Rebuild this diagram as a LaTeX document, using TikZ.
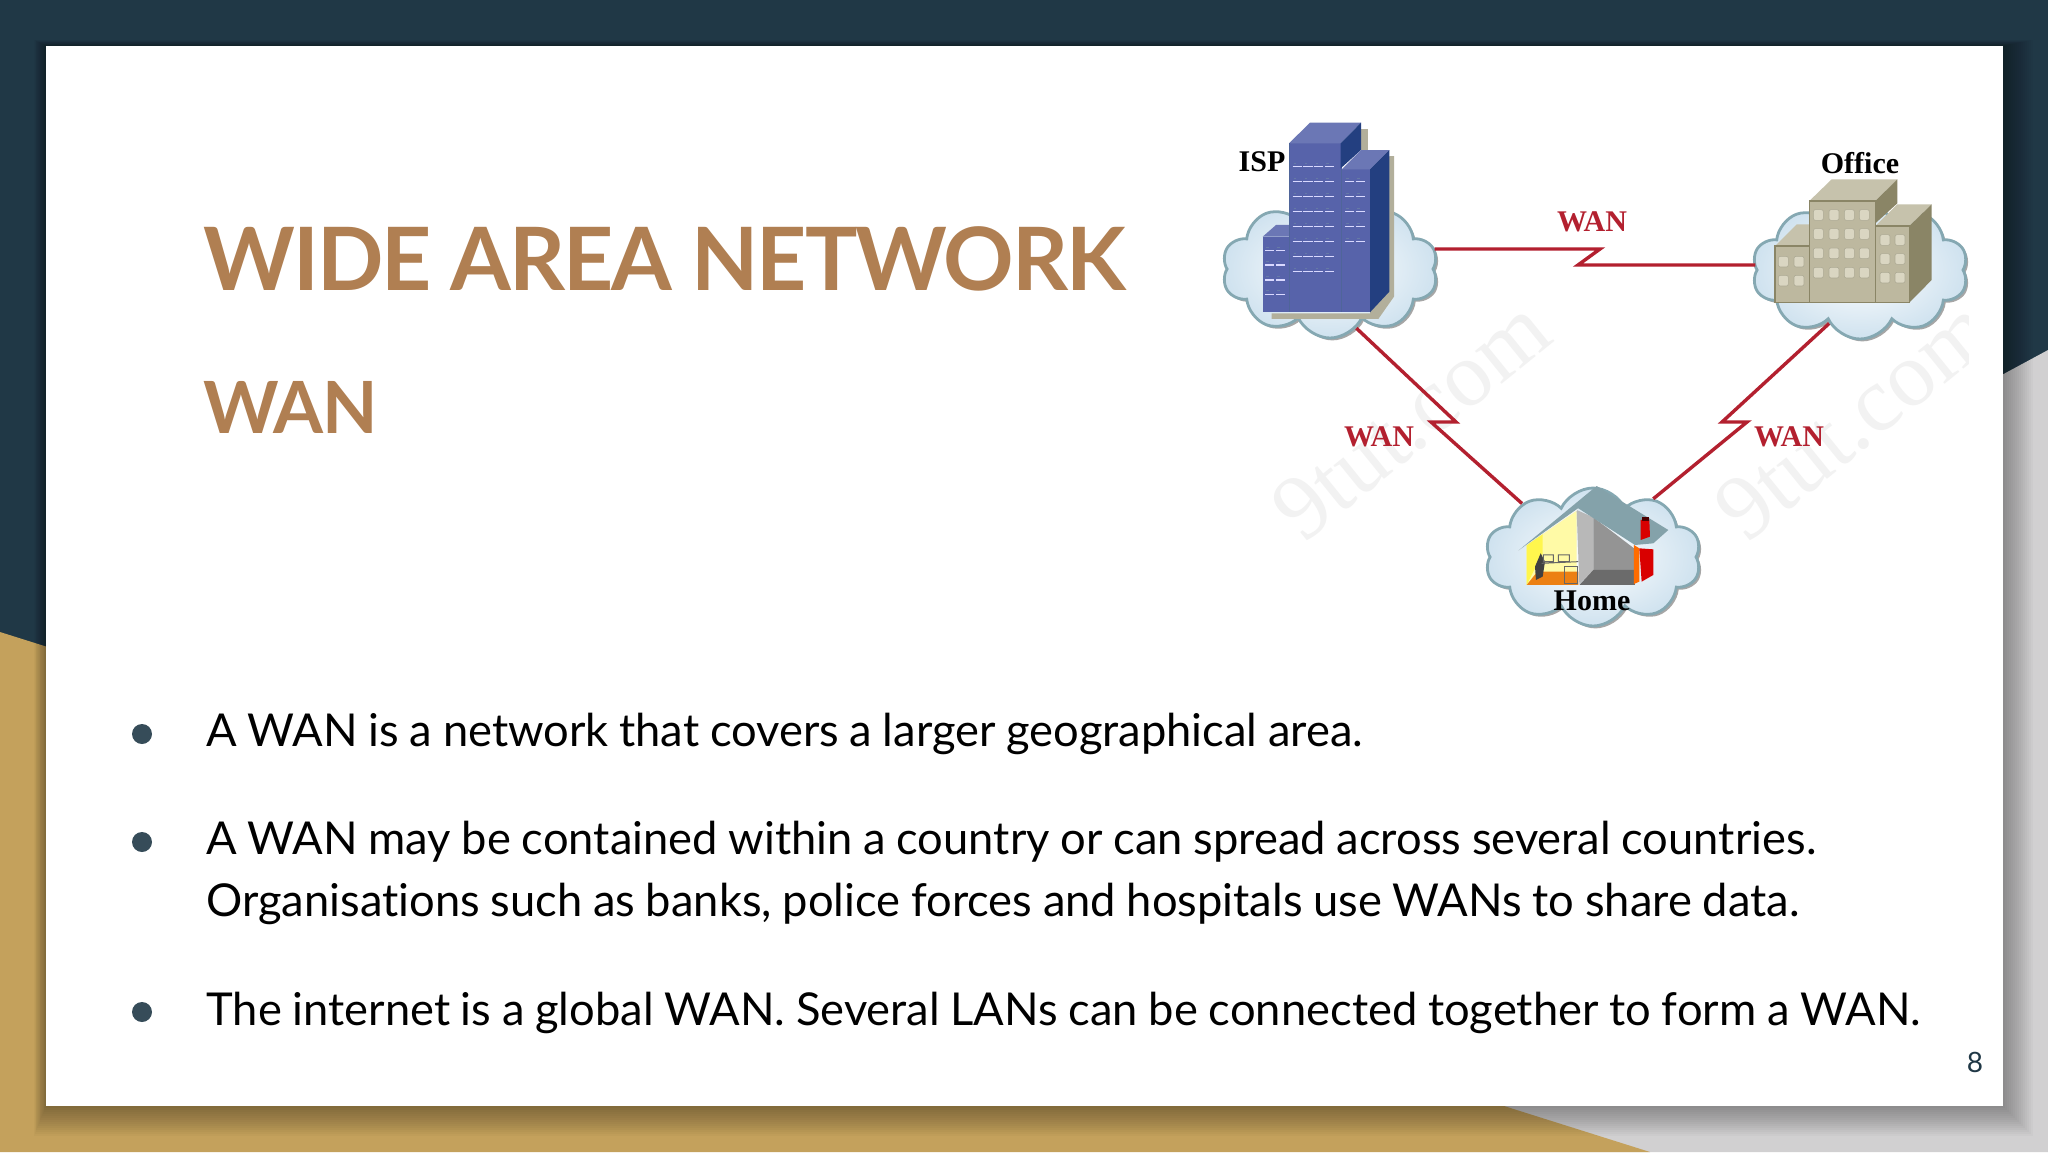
\documentclass[tikz,border=0pt]{standalone}
\usepackage{fontspec}
\setmainfont{Lato}[Ligatures=NoCommon]
\newfontfamily\bodyfont{Lato}[Ligatures=NoCommon,WordSpace=0.92]
\newfontfamily\lblfont{Liberation Serif}
\usetikzlibrary{shapes.symbols,shadows}
\definecolor{navy}{HTML}{203846}
\definecolor{sand}{HTML}{C4A15C}
\definecolor{ash}{HTML}{D1D0D1}
\definecolor{tan}{HTML}{B07F52}
\definecolor{wanred}{HTML}{B3202F}
\definecolor{puff}{HTML}{CFE2EF}
\definecolor{puffedge}{HTML}{85A8B2}
\definecolor{blufront}{HTML}{5763AA}
\definecolor{blutop}{HTML}{6B77B5}
\definecolor{bluside}{HTML}{233F80}
\definecolor{khfront}{HTML}{BDB89F}
\definecolor{khtop}{HTML}{C6C2AC}
\definecolor{khside}{HTML}{8A8566}
\definecolor{khwin}{HTML}{DAD6C2}
\tikzstyle{cloudy}=[cloud, cloud puffs=10, cloud puff arc=130, draw=puffedge, line width=1.4pt,
    inner color=white, outer color=puff, minimum width=108pt, minimum height=69pt,
    drop shadow={shadow xshift=1.2pt, shadow yshift=-1.2pt, fill=gray!70, opacity=1}]
\tikzstyle{lbl} = [font=\lblfont\bfseries\fontsize{15}{15}\selectfont, inner sep=0pt]
\tikzstyle{wan} = [lbl, text=wanred]
\tikzstyle{wanline} = [draw=wanred, line width=1.7pt]
\tikzstyle{bodyline} = [anchor=base west, inner sep=0pt, font=\bodyfont\fontsize{22.65}{22.65}\selectfont]
\tikzstyle{dot} = [circle, fill=navy!90!white, minimum size=10pt, inner sep=0pt]
\tikzstyle{mark9} = [font=\lblfont\fontsize{46}{46}\selectfont, text=black!5, rotate=39, inner sep=0pt]
\tikzstyle{winbar} = [white!85!blue, line width=0.7pt, dash pattern=on 4.6pt off 0.8pt]
\tikzstyle{wintick} = [bluside!70, line width=0.5pt, dash pattern=on 1.2pt off 4.2pt]
\begin{document}
\begin{tikzpicture}[x=0.5pt,y=-0.5pt]
    \useasboundingbox (0,0) rectangle (2048,1152);
    \fill [navy] (0,0) rectangle (2048,1152);
    \fill [ash] (2048,350) -- (2048,1152) -- (1400,1152) -- (1400,700) -- cycle;
    \fill [sand] (0,632) -- (1650,1152) -- (0,1152) -- cycle;
    \foreach \d in {2,4,...,30}
        \fill [black, opacity=0.022] (46-\d*0.4,46-\d*0.2) rectangle (2003+\d,1106+\d);
    \fill [white] (46,46) rectangle (2003,1106);

    \node (title) [anchor=base west, inner sep=0pt, text=tan, font=\bfseries\addfontfeatures{LetterSpace=-2.4}\fontsize{43.7}{43.7}\selectfont] at (203,290) {WIDE AREA NETWORK};
    \node (subtitle) [anchor=base west, inner sep=0pt, text=tan, font=\bfseries\addfontfeatures{LetterSpace=-2.5}\fontsize{36}{36}\selectfont] at (203,433) {WAN};

    \node (lineA) [bodyline] at (206,746) {A WAN is a network that covers a larger geographical area.};
    \node (lineB) [bodyline] at (206,854) {A WAN may be contained within a country or can spread across several countries.};
    \node (lineC) [bodyline] at (206,916) {Organisations such as banks, police forces and hospitals use WANs to share data.};
    \node (lineD) [bodyline] at (206,1025) {The internet is a global WAN. Several LANs can be connected together to form a WAN.};
    \node (dotA) [dot] at (142,734) {};
    \node (dotB) [dot] at (142,842) {};
    \node (dotC) [dot] at (142,1012) {};
    \node (pagenum) [inner sep=0pt, text=navy, font=\fontsize{14}{14}\selectfont] at (1975,1062) {8};

    \node (markA) [mark9] at (1411,419) {9tut.com};
    \begin{scope}
        \clip (1650,280) rectangle (1968,560);
        \node (markB) [mark9] at (1854,419) {9tut.com};
    \end{scope}

    \node (isp) [cloudy] at (1330,269) {};
    \node (office) [cloudy] at (1860,270) {};
    \node (home) [cloudy] at (1593,557) {};

    \coordinate (ioA) at (1600,249);
    \coordinate (ioB) at (1578,265);
    \coordinate (ihA) at (1456,422);
    \coordinate (ihB) at (1431,422);
    \coordinate (ohA) at (1722,422);
    \coordinate (ohB) at (1747,422);
    \path [wanline] (isp.east |- ioA) -- (ioA) -- (ioB) -- (office.west |- ioB);
    \path [wanline] (isp.-66) -- (ihA) -- (ihB) -- (home.143);
    \path [wanline] (office.-120) -- (ohA) -- (ohB) -- (home.44);

    \path (isp.center)+(-68,-107) node (isplabel) [lbl] {ISP};
    \path (office.center)+(0,-107) node (officelabel) [lbl] {Office};
    \path (ioA)+(-8,-27) node (wanAlabel) [wan] {WAN};
    \path (ihB)+(-52,15) node (wanBlabel) [wan] {WAN};
    \path (ohA)+(67,15) node (wanClabel) [wan] {WAN};

    \begin{scope}[shift={(1190,100)},scale=0.3333]
        \fill [khtop!90!black] (245,640) -- (245,657) -- (565,657) -- (612,590) -- (612,168) -- (598,168) -- (540,640) -- cycle;
        \fill [khtop!90!black] (513,88) -- (533,88) -- (533,150) -- (513,150) -- cycle;
        \fill [blufront] (218,410) rectangle (297,637);
        \fill [blutop] (218,410) -- (258,375) -- (297,375) -- (297,410) -- cycle;
        \fill [blufront] (297,130) rectangle (455,637);
        \fill [blutop] (297,130) -- (360,68) -- (513,68) -- (452,130) -- cycle;
        \fill [bluside] (452,130) -- (513,68) -- (513,150) -- (452,205) -- cycle;
        \fill [blufront] (455,208) rectangle (540,637);
        \fill [blutop] (455,208) -- (513,150) -- (598,150) -- (540,208) -- cycle;
        \fill [bluside] (540,208) -- (598,150) -- (598,575) -- (540,637) -- cycle;
        \draw [bluside!80, line width=0.5pt] (297,130) -- (297,637) (455,208) -- (455,637);
        \foreach \y in {200,245,...,515} {
            \draw [winbar] (308,\y) -- (436,\y);
            \draw [wintick] (312,\y-10) -- (436,\y-10);
        }
        \foreach \y in {245,290,...,425} {
            \draw [winbar] (465,\y) -- (526,\y);
            \draw [wintick] (469,\y-10) -- (526,\y-10);
        }
        \foreach \y in {452,495,540,583} {
            \draw [winbar] (225,\y) -- (287,\y);
            \draw [wintick] (229,\y-10) -- (287,\y-10);
        }
    \end{scope}

    \begin{scope}[shift={(1640,120)},scale=0.3333]
        \fill [khfront] (405,378) rectangle (508,548);
        \fill [khtop] (405,378) -- (470,313) -- (508,313) -- (508,378) -- cycle;
        \fill [khfront] (508,243) rectangle (706,548);
        \fill [khtop] (508,243) -- (575,178) -- (772,178) -- (706,243) -- cycle;
        \fill [khside] (706,243) -- (772,178) -- (772,250) -- (706,310) -- cycle;
        \fill [khfront] (706,318) rectangle (808,548);
        \fill [khtop] (706,318) -- (772,253) -- (875,253) -- (808,318) -- cycle;
        \fill [khside] (808,318) -- (875,253) -- (875,480) -- (808,548) -- cycle;
        \draw [khside, line width=0.6pt] (405,378) rectangle (508,548) (508,243) rectangle (706,548) (706,318) rectangle (808,548);
        \foreach \y in {285,342,400,458}
            \foreach \x in {535,582,628,673}
                \filldraw [fill=khwin, draw=khside!70, line width=0.3pt, rounded corners=1pt] (\x-15,\y-16) rectangle (\x+15,\y+16);
        \foreach \y in {425,482}
            \foreach \x in {430,477}
                \filldraw [fill=khwin, draw=khside!70, line width=0.3pt, rounded corners=1pt] (\x-15,\y-16) rectangle (\x+15,\y+16);
        \foreach \y in {360,417,473}
            \foreach \x in {735,780}
                \filldraw [fill=khwin, draw=khside!70, line width=0.3pt, rounded corners=1pt] (\x-15,\y-16) rectangle (\x+15,\y+16);
    \end{scope}

    \begin{scope}[shift={(1300,380)},scale=0.3333]
        \fill [yellow!35!white] (680,495) -- (830,390) -- (830,615) -- (680,615) -- cycle;
        \fill [yellow!70!white] (680,495) -- (728,460) -- (728,520) -- (680,615) -- cycle;
        \fill [orange!70!brown] (680,615) -- (712,575) -- (835,575) -- (835,615) -- cycle;
        \fill [black!28] (830,390) -- (880,412) -- (880,570) -- (838,612) -- cycle;
        \fill [black!42] (880,412) -- (1002,505) -- (1002,570) -- (880,570) -- cycle;
        \fill [black!58] (838,615) -- (880,570) -- (1002,570) -- (1005,615) -- cycle;
        \fill [orange!85!red] (1002,495) -- (1018,505) -- (1018,605) -- (1002,612) -- cycle;
        \fill [puffedge!85!gray] (655,512) -- (890,318) -- (1105,450) -- (1060,490) -- (1005,495) -- (835,385) -- cycle;
        \fill [white!90!gray] (655,512) -- (835,385) -- (830,392) -- (680,495) -- cycle;
        \fill [red!85!black] (1022,420) -- (1048,420) -- (1050,470) -- (1022,480) -- cycle;
        \fill [black!70!red] (1025,412) rectangle (1046,424);
        \fill [red!85!black] (1018,505) -- (1060,508) -- (1060,585) -- (1025,605) -- cycle;
        \fill [black!75] (722,520) -- (735,545) -- (728,590) -- (708,600) -- (705,560) -- cycle;
        \draw [black!60, line width=0.5pt] (730,525) rectangle (760,545) (775,525) rectangle (808,545) (725,550) -- (835,545);
        \draw [black!60, line width=0.5pt] (795,560) rectangle (832,610);
    \end{scope}

    \path (home.center)+(-1,44) node (homelabel) [lbl] {Home};
\end{tikzpicture}
\end{document}
